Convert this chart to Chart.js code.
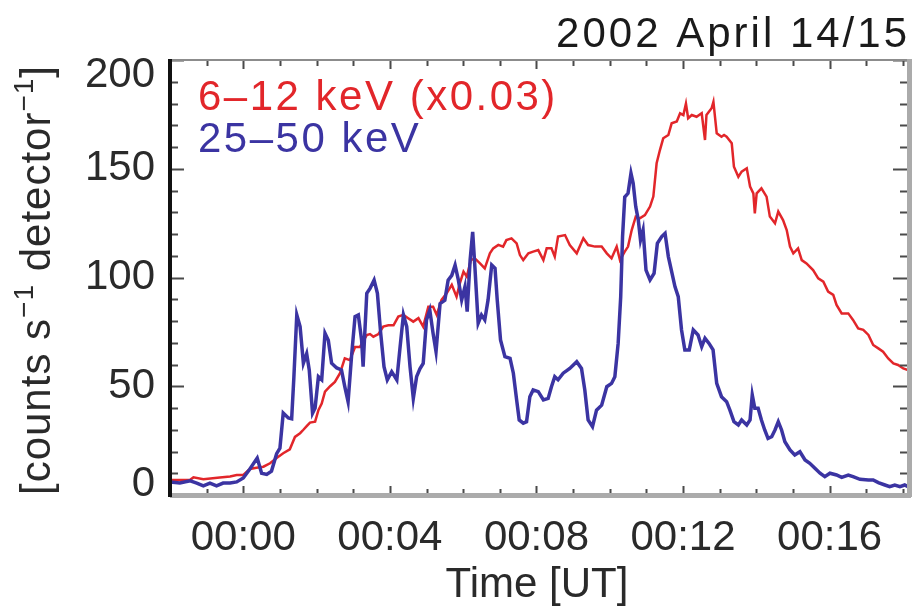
<!DOCTYPE html>
<html>
<head>
<meta charset="utf-8">
<script src="https://cdn.jsdelivr.net/npm/chart.js@4.4.1/dist/chart.umd.min.js"></script>
<style>
  html, body { margin: 0; padding: 0; background: #fff; }
  #wrap { width: 912px; height: 613px; }
</style>
</head>
<body>
<div id="wrap"><canvas id="chart"></canvas></div>
<script>
'use strict';

// ── Data (time in minutes after 00:00 UT) ───────────────────────────────────

// 6-12 keV, scaled x0.03
const redTime = [
  -2.0, -1.73, -1.45, -1.36, -1.09, -0.64, -0.36, -0.18, 0.0, 0.18, 0.36, 0.55,
  0.73, 0.91, 1.09, 1.27, 1.41, 1.55, 1.64, 1.73, 1.82, 1.96, 2.05, 2.14, 2.23,
  2.37, 2.50, 2.64, 2.77, 2.91, 3.05, 3.18, 3.37, 3.46, 3.55, 3.69, 3.82, 3.96,
  4.10, 4.23, 4.37, 4.50, 4.64, 4.78, 4.91, 5.05, 5.18, 5.28, 5.41, 5.55, 5.69,
  5.82, 5.91, 6.01, 6.10, 6.21, 6.32, 6.46, 6.59, 6.73, 6.82, 6.96, 7.09, 7.18,
  7.32, 7.46, 7.55, 7.64, 7.78, 7.91, 8.05, 8.19, 8.28, 8.41, 8.50, 8.59, 8.78,
  8.91, 9.10, 9.28, 9.41, 9.60, 9.78, 9.92, 10.05, 10.19, 10.28, 10.41, 10.50,
  10.60, 10.71, 10.82, 10.96, 11.10, 11.19, 11.28, 11.37, 11.46, 11.60, 11.69,
  11.83, 11.92, 12.01, 12.08, 12.14, 12.24, 12.37, 12.51, 12.60, 12.64, 12.78,
  12.83, 12.92, 13.05, 13.12, 13.19, 13.33, 13.39, 13.51, 13.60, 13.74, 13.83,
  13.92, 13.96, 14.01, 14.14, 14.28, 14.37, 14.51, 14.60, 14.73, 14.83, 14.92,
  15.01, 15.14, 15.24, 15.37, 15.55, 15.69, 15.83, 15.96, 16.10, 16.19, 16.33,
  16.51, 16.64, 16.78, 16.92, 17.06, 17.19, 17.33, 17.46, 17.60, 17.74, 17.87,
  18.01, 18.14,
];
const redCounts = [
  6.9, 6.9, 7.0, 8.1, 7.3, 8.0, 8.5, 9.2, 9.2, 12.0, 12.5, 13.0,
  14.6, 17.0, 19.2, 21.0, 26.7, 28.4, 30.0, 31.7, 33.3, 33.7, 39.0, 42.0, 47.5,
  50.0, 52.0, 56.0, 62.8, 62.0, 68.0, 68.0, 73.5, 74.0, 72.8, 74.0, 77.4, 78.0,
  78.0, 82.0, 82.8, 81.3, 79.7, 81.3, 77.4, 86.6, 86.6, 82.8, 89.7, 92.7, 96.6,
  91.2, 97.3, 102.7, 100.4, 108.0, 108.8, 106.5, 104.2, 111.1, 113.4, 115.0, 114.2, 117.2,
  118.0, 115.7, 110.3, 108.0, 111.1, 111.9, 112.6, 108.0, 113.4, 113.4, 109.6, 118.8, 119.5,
  114.9, 111.1, 118.0, 114.9, 114.2, 114.2, 111.1, 108.8, 114.2, 108.0, 111.9, 114.2,
  121.8, 128.0, 127.2, 128.7, 132.6, 137.2, 152.5, 158.6, 164.0, 165.5, 170.9,
  171.7, 175.5, 174.7, 180.0, 173.2, 174.7, 173.9, 175.5, 163.2, 174.7, 177.8,
  180.8, 166.3, 164.7, 165.5, 164.7, 161.7, 150.9, 146.3, 148.7, 150.2, 141.8,
  138.7, 129.5, 138.7, 141.0, 137.2, 128.0, 124.9, 130.3, 126.4, 121.8, 114.2,
  111.1, 113.4, 108.0, 106.5, 103.4, 99.6, 98.1, 93.5, 92.0, 87.4, 83.5,
  83.5, 80.5, 76.6, 75.9, 73.6, 69.0, 67.4, 65.9, 62.8, 60.5, 59.8,
  58.2, 57.5,
];

// 25-50 keV
const blueTime = [
  -2.0, -1.73, -1.45, -1.27, -1.09, -0.91, -0.73, -0.55, -0.36, -0.18, 0.0, 0.18,
  0.38, 0.50, 0.64, 0.77, 0.91, 1.00, 1.09, 1.23, 1.32, 1.38, 1.46, 1.55, 1.64,
  1.73, 1.80, 1.89, 1.96, 2.05, 2.14, 2.23, 2.32, 2.41, 2.55, 2.68, 2.77, 2.86,
  2.96, 3.05, 3.14, 3.23, 3.27, 3.37, 3.46, 3.57, 3.66, 3.75, 3.84, 3.93, 4.05,
  4.19, 4.28, 4.37, 4.46, 4.55, 4.64, 4.73, 4.82, 4.91, 5.00, 5.09, 5.18, 5.26,
  5.37, 5.50, 5.59, 5.69, 5.78, 5.87, 5.96, 6.05, 6.11, 6.19, 6.26, 6.32, 6.41,
  6.50, 6.59, 6.68, 6.78, 6.87, 6.93, 7.02, 7.14, 7.28, 7.37, 7.46, 7.53, 7.64,
  7.73, 7.82, 7.91, 8.05, 8.19, 8.32, 8.41, 8.50, 8.59, 8.73, 8.91, 9.10, 9.23,
  9.32, 9.41, 9.53, 9.64, 9.78, 9.92, 10.05, 10.14, 10.23, 10.30, 10.35, 10.41,
  10.50, 10.58, 10.64, 10.71, 10.78, 10.84, 10.91, 10.99, 11.10, 11.21, 11.30,
  11.42, 11.51, 11.60, 11.69, 11.78, 11.87, 11.96, 12.05, 12.17, 12.28, 12.41,
  12.51, 12.60, 12.71, 12.82, 12.92, 13.05, 13.19, 13.28, 13.39, 13.51, 13.60,
  13.74, 13.83, 13.89, 13.96, 14.05, 14.14, 14.23, 14.32, 14.42, 14.51, 14.60,
  14.69, 14.78, 14.92, 15.05, 15.19, 15.33, 15.46, 15.60, 15.74, 15.87, 16.01,
  16.19, 16.33, 16.51, 16.64, 16.83, 17.06, 17.19, 17.33, 17.51, 17.64, 17.78,
  17.92, 18.05, 18.14,
];
const blueCounts = [
  6.0, 5.5, 6.5, 5.5, 4.2, 5.5, 4.2, 5.5, 5.5, 6.0, 7.8, 12.0,
  17.0, 10.0, 9.5, 11.0, 19.0, 21.5, 37.7, 35.4, 35.0, 54.0, 82.8, 77.4, 60.6,
  65.0, 57.5, 37.6, 40.0, 54.4, 53.0, 74.4, 71.2, 60.6, 58.4, 57.5, 49.8, 42.9,
  65.0, 82.0, 82.8, 71.0, 59.0, 92.7, 95.0, 98.8, 92.7, 74.3, 59.0, 52.9, 56.7,
  52.9, 68.2, 82.8, 77.4, 59.0, 44.4, 54.4, 58.0, 60.5, 80.5, 85.0, 74.3, 65.9,
  88.0, 89.5, 98.8, 101.0, 105.7, 98.8, 89.7, 95.8, 84.3, 108.0, 121.0, 105.0, 79.0,
  82.8, 80.5, 89.7, 105.7, 104.2, 89.7, 71.3, 63.6, 62.8, 56.0, 43.7, 34.5, 33.0,
  33.7, 45.2, 48.3, 47.5, 43.7, 44.4, 49.8, 54.4, 53.0, 56.0, 58.2, 61.3, 58.2,
  48.3, 34.5, 31.4, 39.0, 41.3, 49.8, 51.3, 54.4, 69.7, 91.2, 118.8, 137.0,
  138.7, 147.9, 143.3, 132.6, 126.4, 117.2, 121.8, 103.4, 98.9, 101.9, 115.7,
  118.8, 120.3, 109.6, 102.7, 95.8, 91.2, 75.9, 66.7, 66.7, 75.9, 73.6,
  68.2, 72.1, 69.7, 66.7, 51.3, 45.2, 42.9, 39.0, 33.7, 32.2, 34.5,
  32.2, 34.5, 46.0, 39.9, 39.9, 34.5, 29.9, 26.0, 26.8, 29.9, 33.7,
  29.9, 24.5, 20.7, 18.4, 19.9, 16.1, 14.6, 12.3, 10.0, 8.4, 10.0,
  9.2, 8.1, 9.2, 8.4, 7.2, 6.9, 6.9, 5.7, 4.6, 3.8, 4.6,
  3.8, 4.6, 3.8,
];

const xTickValues = [0, 4, 8, 12, 16];
const xTickLabels = ['00:00', '00:04', '00:08', '00:12', '00:16'];
const yTickValues = [0, 50, 100, 150, 200];
const yTickLabels = ['0', '50', '100', '150', '200'];

const titleText = '2002 April 14/15';
const redLabel = '6–12 keV (x0.03)';
const blueLabel = '25–50 keV';
const xTitle = 'Time [UT]';

const RED = '#e2262a';
const BLUE = '#3b34a2';
const INK = '#2a2a2a';
const FONT = '"Liberation Sans", Arial, Helvetica, sans-serif';

// ── Frame, inward ticks and free text ─────────────────────────────────────────

function range(a, b) {
  const out = [];
  for (let v = a; v <= b; v++) out.push(v);
  return out;
}

function drawYTitle(ctx) {
  const main = `42px ${FONT}`;
  const sup = `28px ${FONT}`;
  const parts = [
    ['[counts s', main, 0],
    ['−1', sup, -17],
    [' detector', main, 0],
    ['−1', sup, -17],
    [']', main, 0],
  ];
  ctx.save();
  ctx.translate(50, 280);
  ctx.rotate(-Math.PI / 2);
  ctx.fillStyle = INK;
  ctx.textBaseline = 'alphabetic';
  ctx.textAlign = 'left';
  if ('letterSpacing' in ctx) ctx.letterSpacing = '1px';
  let total = 0;
  parts.forEach(p => { ctx.font = p[1]; total += ctx.measureText(p[0]).width; });
  let x = -total / 2;
  parts.forEach(p => {
    ctx.font = p[1];
    ctx.fillText(p[0], x, p[2]);
    x += ctx.measureText(p[0]).width;
  });
  ctx.restore();
}

const framePlugin = {
  id: 'frame',
  afterDraw(chart) {
    const { ctx, chartArea: a, scales: { x, y } } = chart;
    ctx.save();

    // inward ticks
    ctx.strokeStyle = '#4a4a4a';
    ctx.lineWidth = 2;
    ctx.beginPath();
    range(-2, 18).forEach(t => {
      const px = Math.round(x.getPixelForValue(t)) + 0.5;
      const major = xTickValues.includes(t);
      ctx.moveTo(px, a.bottom);
      ctx.lineTo(px, a.bottom - (major ? 9 : 6));
      ctx.moveTo(px, a.top);
      ctx.lineTo(px, a.top + (major ? 9 : 6));
    });
    range(0, 20).forEach(i => {
      const v = i * 10;
      const py = Math.round(y.getPixelForValue(v)) + 0.5;
      const major = v % 50 === 0;
      ctx.moveTo(a.left, py);
      ctx.lineTo(a.left + (major ? 14 : 8), py);
      ctx.moveTo(a.right, py);
      ctx.lineTo(a.right - (major ? 15 : 8), py);
    });
    ctx.stroke();

    // box
    ctx.fillStyle = '#8c8c8c';
    ctx.fillRect(a.left, a.top - 1, a.right - a.left, 2);
    ctx.fillStyle = '#ababab';
    ctx.fillRect(a.left, a.bottom - 2, a.right - a.left + 3, 5);
    ctx.fillRect(a.right - 1, a.top - 1, 5, a.bottom - a.top + 3);
    ctx.fillStyle = '#111';
    ctx.fillRect(a.left - 2, a.top - 1, 4, a.bottom - a.top + 3);

    // y tick labels, end labels pulled inside the frame as in the original
    ctx.font = `42px ${FONT}`;
    ctx.fillStyle = INK;
    ctx.textAlign = 'right';
    ctx.textBaseline = 'middle';
    yTickValues.forEach((v, i) => {
      const py = Math.min(Math.max(y.getPixelForValue(v), a.top + 15), a.bottom - 11);
      ctx.fillText(yTickLabels[i], a.left - 15, py);
    });

    // title
    ctx.textBaseline = 'alphabetic';
    ctx.fillStyle = '#1a1a1a';
    if ('letterSpacing' in ctx) ctx.letterSpacing = '3px';
    ctx.textAlign = 'right';
    ctx.fillText(titleText, a.right + 2, 47);

    // series labels
    if ('letterSpacing' in ctx) ctx.letterSpacing = '2.5px';
    ctx.textAlign = 'left';
    ctx.fillStyle = RED;
    ctx.fillText(redLabel, a.left + 28, 110);
    ctx.fillStyle = BLUE;
    ctx.fillText(blueLabel, a.left + 28, 152);

    // x title
    if ('letterSpacing' in ctx) ctx.letterSpacing = '0px';
    ctx.fillStyle = INK;
    ctx.textAlign = 'center';
    ctx.fillText(xTitle, (a.left + a.right) / 2 - 2, 597);

    ctx.restore();
    drawYTitle(ctx);
  },
};

// ── Chart ─────────────────────────────────────────────────────────────────────

const toPoints = (ts, vs) => ts.map((t, i) => ({ x: t, y: vs[i] }));

new Chart(document.getElementById('chart').getContext('2d'), {
  type: 'line',
  data: {
    datasets: [
      {
        label: blueLabel,
        data: toPoints(blueTime, blueCounts),
        borderColor: BLUE,
        borderWidth: 3.5,
        pointRadius: 0,
        tension: 0,
        fill: false,
      },
      {
        label: redLabel,
        data: toPoints(redTime, redCounts),
        borderColor: RED,
        borderWidth: 2.5,
        pointRadius: 0,
        tension: 0,
        fill: false,
      },
    ],
  },
  options: {
    responsive: true,
    maintainAspectRatio: false,
    animation: false,
    devicePixelRatio: 1,
    layout: { padding: { top: 60, right: 4, bottom: 0, left: 0 } },
    plugins: {
      legend: { display: false },
      tooltip: { enabled: false },
      title: { display: false },
    },
    scales: {
      x: {
        type: 'linear',
        min: -2,
        max: 18.14,
        afterBuildTicks: s => { s.ticks = xTickValues.map(v => ({ value: v })); },
        afterFit: s => { s.height = 118; },
        grid: { display: false, drawTicks: false },
        border: { display: false },
        ticks: {
          autoSkip: false,
          maxRotation: 0,
          padding: 18,
          color: INK,
          font: { family: FONT, size: 42 },
          callback: v => xTickLabels[xTickValues.indexOf(v)] ?? '',
        },
      },
      y: {
        type: 'linear',
        min: 0,
        max: 200,
        afterBuildTicks: s => { s.ticks = yTickValues.map(v => ({ value: v })); },
        afterFit: s => { s.width = 170; },
        grid: { display: false, drawTicks: false },
        border: { display: false },
        ticks: { display: false },
      },
    },
  },
  plugins: [framePlugin],
});
</script>
</body>
</html>
